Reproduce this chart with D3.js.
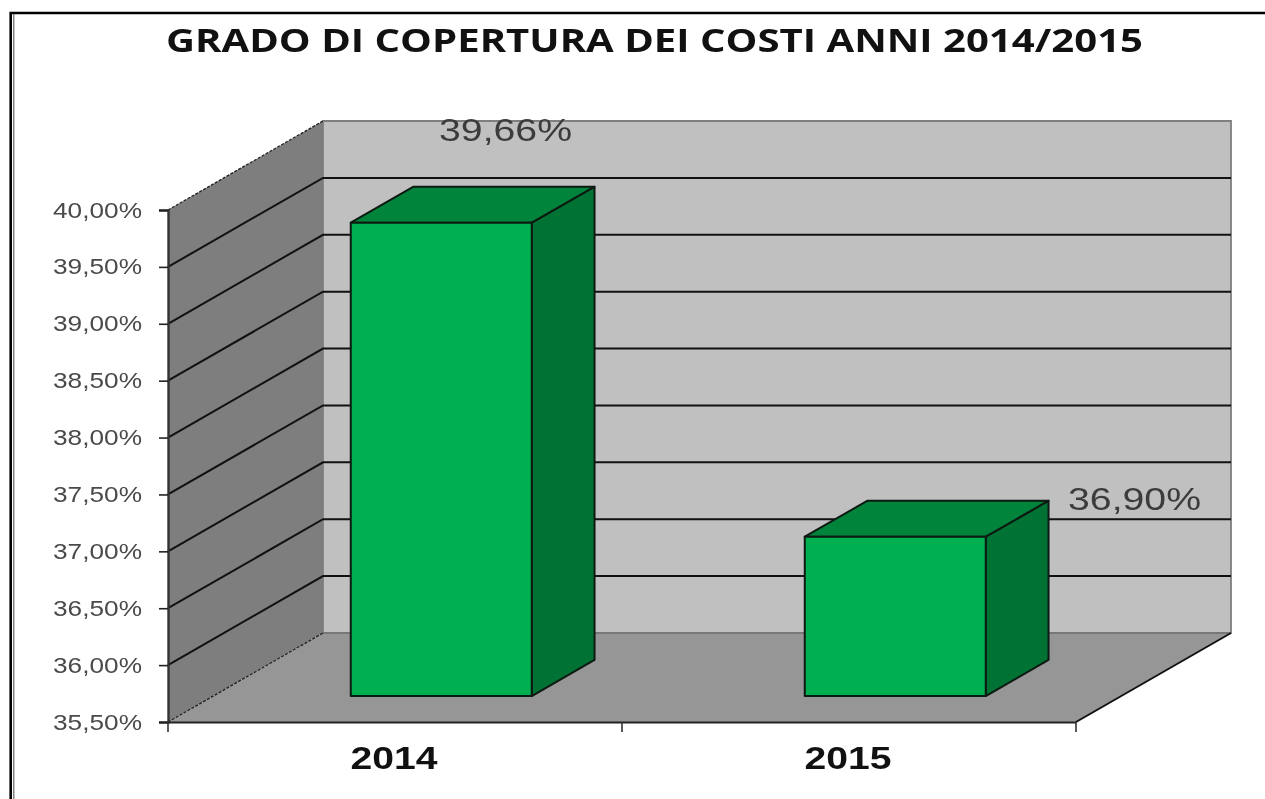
<!DOCTYPE html>
<html>
<head>
<meta charset="utf-8">
<title>Grado di copertura dei costi</title>
<script src="https://cdn.jsdelivr.net/npm/d3@7"></script>
<style>
html, body { margin: 0; padding: 0; background: #fff; }
svg { display: block; filter: blur(0.45px); }
</style>
</head>
<body>
<script>
var categories = [ "2014", "2015" ];
var values = [ 39.66, 36.90 ];
var valueLabels = [ "39,66%", "36,90%" ];
var tickValues = [ 35.5, 36, 36.5, 37, 37.5, 38, 38.5, 39, 39.5, 40 ];
var title = "GRADO DI COPERTURA DEI COSTI ANNI 2014/2015";

var width = 1265, height = 799;

var svg = d3.select("body").append("svg") //
.attr("width", width) //
.attr("height", height);

// front plane scales
var xScale = d3.scaleBand().domain(categories).range([ 168, 1076 ]);
var yScale = d3.scaleLinear().domain([ 35.5, 40 ]).range([ 722, 210 ]);

// 3d offset of the chart depth
var depthX = 155, depthY = -89;
var barFront = 0.292, barBack = 0.697, barWidth = 181, barShift = 1;

function project(x, value, depth) {
	return [ x + depthX * depth, yScale(value) + depthY * depth ];
}

function poly(points) {
	return points.map(function(p) {
		return p.join(",");
	}).join(" ");
}

var x0 = xScale.range()[0], x1 = xScale.range()[1];
var yMin = yScale.domain()[0], yMax = yScale.domain()[1];

// frame
svg.append("path") //
.attr("d", "M10.7,799V13H1265") //
.attr("fill", "none") //
.attr("stroke", "#000") //
.attr("stroke-width", 2.6);
svg.append("path") //
.attr("d", "M13.8,799V14") //
.attr("fill", "none") //
.attr("stroke", "#666") //
.attr("stroke-width", 1.2);

// walls
svg.append("polygon") //
.attr("points", poly([ project(x0, yMin, 1), project(x1, yMin, 1),
		project(x1, yMax, 1), project(x0, yMax, 1) ])) //
.attr("fill", "#c0c0c0") //
.attr("stroke", "#7f7f7f") //
.attr("stroke-width", 1.8);

svg.append("polygon") //
.attr("points", poly([ project(x0, yMin, 0), project(x0, yMin, 1),
		project(x0, yMax, 1), project(x0, yMax, 0) ])) //
.attr("fill", "#7e7e7e");

svg.append("polygon") //
.attr("points", poly([ project(x0, yMin, 0), project(x1, yMin, 0),
		project(x1, yMin, 1), project(x0, yMin, 1) ])) //
.attr("fill", "#969696");

// dotted edges of the side wall
[ yMin, yMax ].forEach(function(v) {
	svg.append("line") //
	.attr("x1", project(x0, v, 0)[0]).attr("y1", project(x0, v, 0)[1]) //
	.attr("x2", project(x0, v, 1)[0]).attr("y2", project(x0, v, 1)[1]) //
	.attr("stroke", "#222") //
	.attr("stroke-width", 1.3) //
	.attr("stroke-dasharray", "3,1.5");
});

// back edge of the floor
svg.append("line") //
.attr("x1", project(x0, yMin, 1)[0]).attr("y1", project(x0, yMin, 1)[1]) //
.attr("x2", project(x1, yMin, 1)[0]).attr("y2", project(x1, yMin, 1)[1]) //
.attr("stroke", "#777") //
.attr("stroke-width", 1.8);

// gridlines
var gridValues = tickValues.slice(1, -1);
svg.append("g").selectAll("path").data(gridValues).enter().append("path") //
.attr("d", function(d) {
	return "M" + project(x0, d, 0) + "L" + project(x0, d, 1) + "L"
			+ project(x1, d, 1);
}) //
.attr("fill", "none") //
.attr("stroke", "#111") //
.attr("stroke-width", 2);

// floor edge on the right
svg.append("line") //
.attr("x1", x1).attr("y1", yScale(yMin)) //
.attr("x2", project(x1, yMin, 1)[0]).attr("y2", project(x1, yMin, 1)[1]) //
.attr("stroke", "#111") //
.attr("stroke-width", 2);

// bars
var bars = svg.selectAll("g.bar").data(values).enter().append("g") //
.attr("class", "bar");

function barCorner(i, value, depth, side) {
	var left = xScale(categories[i]) + (xScale.bandwidth() - barWidth) / 2
			+ barShift;
	return project(left + side * barWidth, value, depth);
}

// side face
bars.append("polygon") //
.attr("points", function(d, i) {
	return poly([ barCorner(i, yMin, barFront, 1),
			barCorner(i, yMin, barBack, 1), barCorner(i, d, barBack, 1),
			barCorner(i, d, barFront, 1) ]);
}) //
.attr("fill", "#007233");

// top face
bars.append("polygon") //
.attr("points", function(d, i) {
	return poly([ barCorner(i, d, barFront, 0), barCorner(i, d, barBack, 0),
			barCorner(i, d, barBack, 1), barCorner(i, d, barFront, 1) ]);
}) //
.attr("fill", "#00843c");

// front face
bars.append("polygon") //
.attr("points", function(d, i) {
	return poly([ barCorner(i, yMin, barFront, 0),
			barCorner(i, yMin, barFront, 1), barCorner(i, d, barFront, 1),
			barCorner(i, d, barFront, 0) ]);
}) //
.attr("fill", "#00b050");

bars.selectAll("polygon") //
.attr("stroke", "#0c1a12") //
.attr("stroke-width", 2) //
.attr("stroke-linejoin", "round");

// axes
var yAxis = d3.axisLeft(yScale) //
.tickValues(tickValues) //
.tickSize(9) //
.tickFormat(function() {
	return "";
});
var yG = svg.append("g") //
.attr("transform", "translate(" + x0 + ",0)") //
.call(yAxis);
yG.selectAll("line").attr("stroke", "#222").attr("stroke-width", 1.6);
yG.select(".domain").attr("stroke", "#333").attr("stroke-width", 2.4);

var xAxis = d3.axisBottom(xScale) //
.tickValues([]) //
.tickSizeOuter(0);
var xG = svg.append("g") //
.attr("transform", "translate(0," + yScale(yMin) + ")") //
.call(xAxis);
xG.select(".domain").attr("stroke", "#222").attr("stroke-width", 2.2);

// ticks sit between the categories
svg.append("g").selectAll("line").data([ x0, xScale(categories[1]), x1 ]).enter()
		.append("line") //
		.attr("x1", function(d) {
			return d;
		}) //
		.attr("x2", function(d) {
			return d;
		}) //
		.attr("y1", yScale(yMin)) //
		.attr("y2", yScale(yMin) + 10) //
		.attr("stroke", "#333") //
		.attr("stroke-width", 1.6);

// labels
svg.append("g").selectAll("text").data(tickValues).enter().append("text") //
.attr("x", 142) //
.attr("y", function(d) {
	return yScale(d) + 7.5;
}) //
.attr("text-anchor", "end") //
.attr("font-family", "'Liberation Sans', Arial, sans-serif") //
.attr("font-size", 22) //
.attr("textLength", 89) //
.attr("lengthAdjust", "spacingAndGlyphs") //
.attr("fill", "#4a4a4a") //
.text(function(d) {
	return d3.format(".2f")(d).replace(".", ",") + "%";
});

svg.append("g").selectAll("text").data(categories).enter().append("text") //
.attr("x", function(d) {
	return xScale(d) + xScale.bandwidth() / 2 - 1;
}) //
.attr("y", 769) //
.attr("text-anchor", "middle") //
.attr("font-family", "'Liberation Sans', Arial, sans-serif") //
.attr("font-weight", "bold") //
.attr("font-size", 32) //
.attr("textLength", 87) //
.attr("lengthAdjust", "spacingAndGlyphs") //
.attr("fill", "#111") //
.text(function(d) {
	return d;
});

// data labels, near the back corner of each bar
svg.append("g").selectAll("text").data(values).enter().append("text") //
.attr("x", function(d, i) {
	return barCorner(i, d, barBack, 1)[0] + (i == 0 ? -89 : 86);
}) //
.attr("y", function(d, i) {
	return barCorner(i, d, barBack, 1)[1] + (i == 0 ? -46 : 9);
}) //
.attr("text-anchor", "middle") //
.attr("font-family", "'Liberation Sans', Arial, sans-serif") //
.attr("font-size", 32) //
.attr("textLength", 133) //
.attr("lengthAdjust", "spacingAndGlyphs") //
.attr("fill", "#3c3c3c") //
.text(function(d, i) {
	return valueLabels[i];
});

// title
svg.append("text") //
.attr("x", 166) //
.attr("y", 52) //
.attr("font-family", "'Open Sans', sans-serif") //
.attr("font-weight", "bold") //
.attr("font-size", 33) //
.attr("textLength", 977) //
.attr("lengthAdjust", "spacingAndGlyphs") //
.attr("fill", "#111") //
.text(title);
</script>
</body>
</html>
